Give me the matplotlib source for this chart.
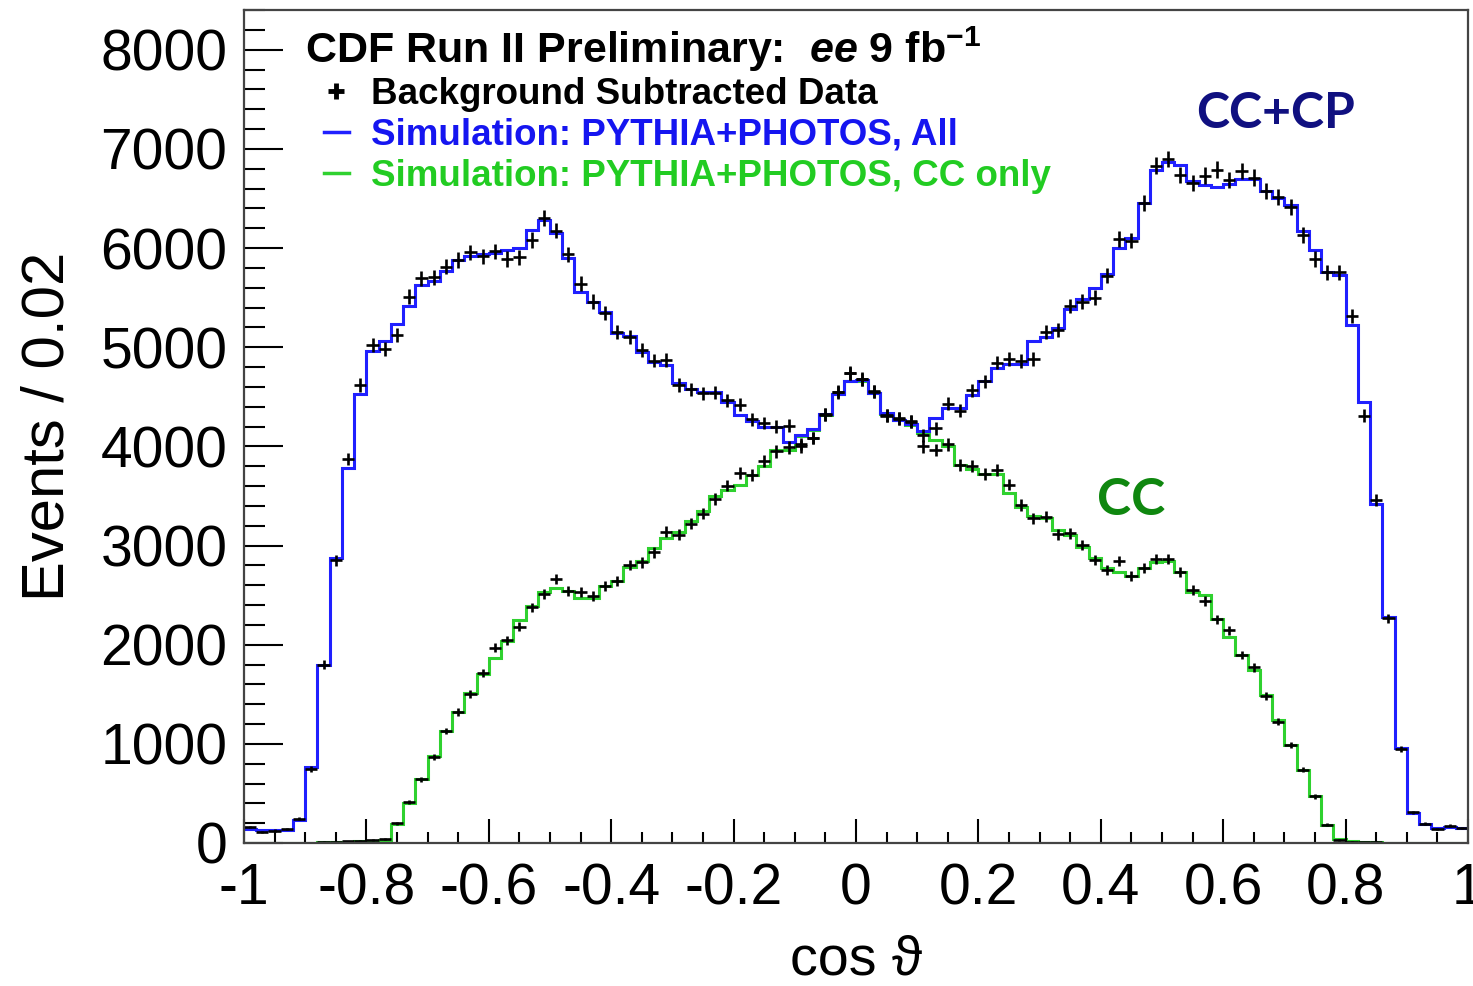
import matplotlib.pyplot as plt
import numpy as np
from matplotlib.lines import Line2D
from matplotlib.ticker import MultipleLocator

plt.rcParams['font.family'] = ['Liberation Sans', 'DejaVu Sans']
plt.rcParams['axes.unicode_minus'] = False
plt.rcParams['mathtext.fontset'] = 'custom'
plt.rcParams['mathtext.rm'] = 'Liberation Sans:bold'
plt.rcParams['mathtext.it'] = 'Liberation Sans:italic:bold'
plt.rcParams['mathtext.bf'] = 'Liberation Sans:bold'

# 100 bins of width 0.02 in cos(theta)
edges = np.linspace(-1, 1, 101)
centers = 0.5 * (edges[1:] + edges[:-1])

# simulation, all events (CC+CP)
sim_all = [
    140, 130, 130, 135, 235, 765, 1800, 2870, 3780, 4530,
    4960, 5060, 5230, 5420, 5630, 5670, 5765, 5880, 5920, 5935,
    5950, 5980, 6005, 6180, 6285, 6150, 5895, 5560, 5460, 5350,
    5140, 5115, 4950, 4855, 4820, 4635, 4580, 4550, 4550, 4450,
    4320, 4255, 4190, 4190, 4045, 4115, 4170, 4325, 4530, 4660,
    4665, 4540, 4335, 4270, 4225, 4155, 4290, 4390, 4390, 4520,
    4655, 4790, 4835, 4835, 5060, 5105, 5195, 5380, 5490, 5600,
    5735, 5995, 6105, 6450, 6790, 6870, 6835, 6675, 6640, 6620,
    6645, 6700, 6700, 6570, 6500, 6430, 6170, 5975, 5760, 5730,
    5225, 4450, 3420, 2280, 955, 305, 195, 155, 165, 155]

# simulation, CC events only
sim_cc = [
    0, 0, 0, 0, 2, 5, 8, 10, 15, 20,
    25, 35, 190, 405, 650, 880, 1130, 1325, 1510, 1700,
    1865, 2040, 2245, 2385, 2530, 2575, 2545, 2470, 2470, 2595,
    2640, 2785, 2840, 2975, 3080, 3140, 3245, 3350, 3500, 3560,
    3610, 3710, 3800, 3960, 3960, 4100, 4160, 4320, 4525, 4655,
    4660, 4535, 4330, 4265, 4215, 4130, 4060, 4000, 3815, 3770,
    3725, 3725, 3525, 3390, 3295, 3275, 3160, 3105, 2980, 2870,
    2775, 2730, 2690, 2775, 2830, 2845, 2735, 2530, 2505, 2260,
    2075, 1895, 1740, 1490, 1240, 990, 740, 470, 185, 40,
    18, 15, 8, 3, 0, 0, 0, 0, 0, 0]

# background subtracted data, all events
data_all = [
    160, 110, 125, 140, 245, 745, 1800, 2850, 3870, 4620,
    5025, 4980, 5125, 5510, 5695, 5705, 5810, 5880, 5955, 5915,
    5965, 5890, 5905, 6080, 6300, 6175, 5935, 5640, 5460, 5345,
    5150, 5105, 4970, 4865, 4870, 4620, 4575, 4535, 4540, 4465,
    4420, 4275, 4235, 4200, 4210, 4025, 4085, 4325, 4550, 4740,
    4680, 4555, 4315, 4285, 4255, 4110, 4180, 4430, 4360, 4565,
    4655, 4845, 4880, 4860, 4880, 5150, 5175, 5415, 5460, 5500,
    5720, 6090, 6075, 6455, 6830, 6900, 6735, 6655, 6730, 6790,
    6685, 6775, 6710, 6575, 6515, 6410, 6130, 5890, 5755, 5755,
    5315, 4310, 3458, 2265, 945, 310, 195, 140, 175, 150]

# background subtracted data, CC events
data_cc = [
    0, 0, 0, 0, 0, 5, 15, 10, 20, 25,
    30, 40, 200, 410, 645, 870, 1130, 1320, 1500, 1715,
    1970, 2045, 2180, 2375, 2510, 2660, 2545, 2535, 2490, 2590,
    2640, 2805, 2830, 2930, 3140, 3110, 3220, 3320, 3470, 3605,
    3730, 3710, 3855, 3950, 3990, 4000, 4085, 4320, 4545, 4735,
    4675, 4550, 4310, 4280, 4250, 4000, 3965, 4020, 3815, 3805,
    3725, 3760, 3615, 3410, 3275, 3290, 3115, 3125, 3005, 2855,
    2755, 2845, 2690, 2775, 2865, 2865, 2735, 2550, 2440, 2255,
    2145, 1895, 1770, 1480, 1225, 990, 740, 470, 185, 30,
    15, 10, 12, 5, 0, 0, 0, 0, 0, 0]

xticks = [-1, -0.8, -0.6, -0.4, -0.2, 0, 0.2, 0.4, 0.6, 0.8, 1]
xtick_labels = ['-1', '-0.8', '-0.6', '-0.4', '-0.2', '0', '0.2', '0.4', '0.6', '0.8', '1']
yticks = [0, 1000, 2000, 3000, 4000, 5000, 6000, 7000, 8000]

blue = '#2020ff'
green = '#2fd12f'

fig = plt.figure(figsize=(14.73, 9.86), dpi=100)
ax = fig.add_axes([244/1473, 1 - 843/986, 1224/1473, 833/986])

ax.stairs(sim_cc, edges, color=green, lw=2.2, baseline=None)
ax.stairs(sim_all, edges, color=blue, lw=2.2, baseline=None)
for d in (data_all, data_cc):
    d = np.asarray(d, dtype=float)
    ax.errorbar(centers, d, xerr=0.01, yerr=np.sqrt(d), fmt='none',
                ecolor='black', elinewidth=1.9, capsize=0)

ax.set_xlim(-1, 1)
ax.set_ylim(0, 8400)
ax.set_xticks(xticks)
ax.set_xticklabels(xtick_labels)
ax.set_yticks(yticks)
ax.xaxis.set_minor_locator(MultipleLocator(0.05))
ax.yaxis.set_minor_locator(MultipleLocator(200))

ax.tick_params(axis='both', which='both', direction='in', top=False, right=False,
               color='black')
ax.tick_params(axis='y', which='major', length=28, width=1.5, pad=12, labelsize=41)
ax.tick_params(axis='y', which='minor', length=15, width=1.5)
ax.tick_params(axis='x', which='major', length=17, width=1.5, pad=14, labelsize=41)
ax.tick_params(axis='x', which='minor', length=8, width=1.5)
for s in ax.spines.values():
    s.set_color('#444444')
    s.set_linewidth(1.6)

ax.set_ylabel('Events / 0.02', fontsize=43)
ax.yaxis.set_label_coords(-0.138, 0.5)
ax.set_xlabel('cos ϑ', fontsize=40)
ax.xaxis.set_label_coords(0.5, -0.11)

fig.text(305/1473, 1 - 63/986, r'CDF Run II Preliminary:  $ee$ 9 fb$^{-1}$',
         fontsize=31, fontweight='bold', va='baseline')

handles = [Line2D([], [], ls='none', marker='+', ms=12, mew=3.5, color='black'),
           Line2D([], [], color=blue, lw=2.5),
           Line2D([], [], color=green, lw=2.5)]
labels = ['Background Subtracted Data',
          'Simulation: PYTHIA+PHOTOS, All',
          'Simulation: PYTHIA+PHOTOS, CC only']
ax.legend(handles, labels, loc='upper left', bbox_to_anchor=(0.065, 0.92),
          frameon=False, prop={'weight': 'bold', 'size': 26.5},
          labelcolor=['black', '#1515f0', '#22cc22'],
          handlelength=0.7, handletextpad=0.6, labelspacing=0.17,
          borderaxespad=0, borderpad=0)

fig.text(1276/1473, 1 - 128/986, 'CC+CP', color='#101080', fontsize=36,
         fontweight='bold', family='Lato', ha='center', va='baseline')
fig.text(1131/1473, 1 - 515/986, 'CC', color='#0f870f', fontsize=37,
         fontweight='bold', family='Lato', ha='center', va='baseline')

fig.savefig('out.png', dpi=100)
